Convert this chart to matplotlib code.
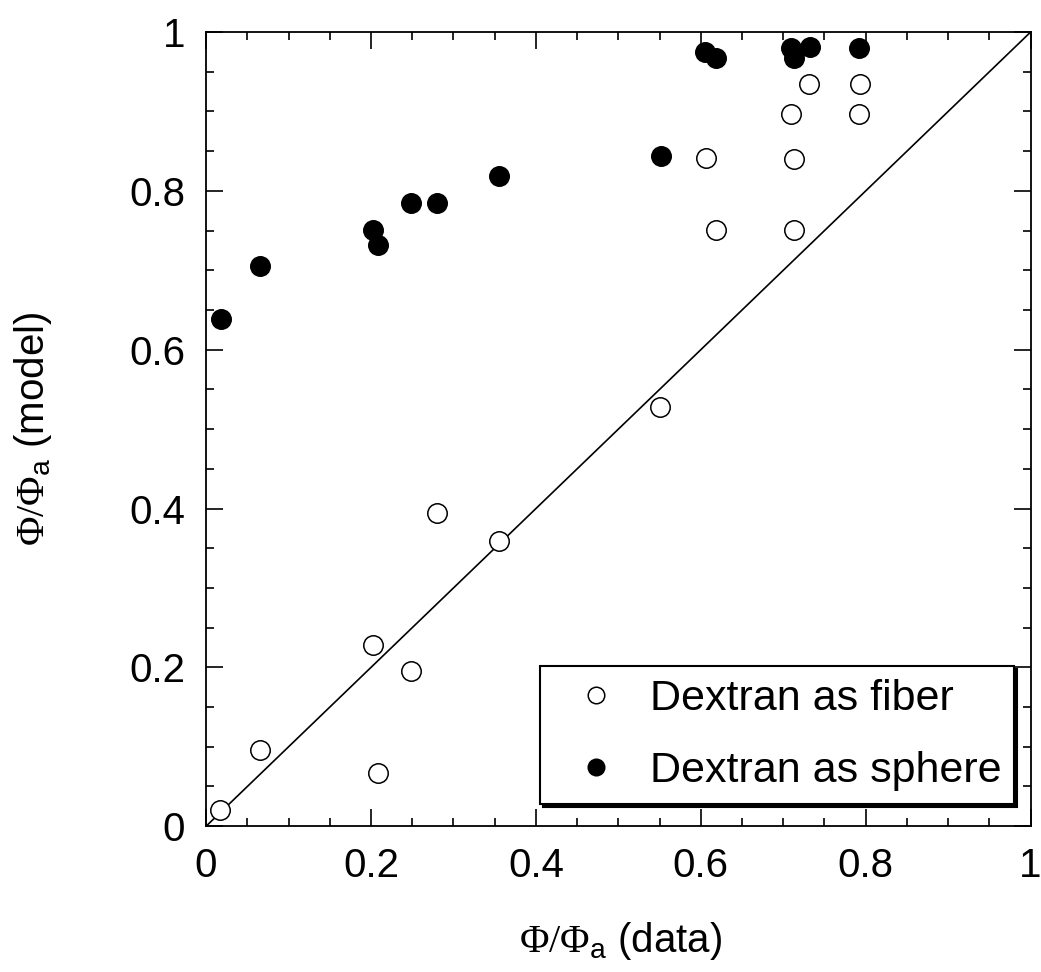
import matplotlib
matplotlib.use("Agg")
import matplotlib.pyplot as plt
from matplotlib.ticker import MultipleLocator, FuncFormatter

# valores
fiber_x = [0.017, 0.065, 0.202, 0.208, 0.248, 0.280, 0.355, 0.551,
           0.606, 0.618, 0.710, 0.713, 0.713, 0.731, 0.792, 0.793]
fiber_y = [0.021, 0.096, 0.228, 0.067, 0.196, 0.395, 0.359, 0.528,
           0.841, 0.751, 0.897, 0.840, 0.751, 0.934, 0.897, 0.934]

sphere_x = [0.018, 0.065, 0.202, 0.208, 0.248, 0.280, 0.355, 0.552,
            0.605, 0.619, 0.710, 0.713, 0.732, 0.792]
sphere_y = [0.639, 0.705, 0.751, 0.732, 0.785, 0.785, 0.819, 0.844,
            0.975, 0.967, 0.980, 0.967, 0.981, 0.980]

line_x = [0, 1]
line_y = [0, 1]

plt.rcParams['font.family'] = ['Liberation Sans', 'DejaVu Sans']
plt.rcParams['mathtext.fontset'] = 'custom'
plt.rcParams['mathtext.rm'] = 'Liberation Serif'
plt.rcParams['mathtext.sf'] = 'Liberation Sans'

fig = plt.figure(figsize=(10.41, 9.72), dpi=100)
ax = fig.add_axes([0.198, 0.150, 0.792, 0.817])

ax.plot(line_x, line_y, color='black', lw=1.2, zorder=1)
ax.plot(fiber_x, fiber_y, 'o', ms=14, mfc='white', mec='black', mew=1.1,
        ls='none', label='Dextran as fiber', zorder=2)
ax.plot(sphere_x, sphere_y, 'o', ms=14, mfc='black', mec='black', mew=1.1,
        ls='none', label='Dextran as sphere', zorder=3)

ax.set_xlim(0, 1)
ax.set_ylim(0, 1)
for a in (ax.xaxis, ax.yaxis):
    a.set_major_locator(MultipleLocator(0.2))
    a.set_minor_locator(MultipleLocator(0.05))
    a.set_major_formatter(FuncFormatter(lambda v, p: '%g' % round(v, 2)))

ax.tick_params(which='both', direction='in', top=True, right=True, width=1.2)
ax.tick_params(which='major', length=12, labelsize=29, pad=15)
ax.tick_params(which='minor', length=6)
for s in ax.spines.values():
    s.set_linewidth(1.3)

ax.set_xlabel(r'$\mathrm{\Phi/\Phi}_{\mathsf{a}}$ (data)', fontsize=29)
ax.set_ylabel(r'$\mathrm{\Phi/\Phi}_{\mathsf{a}}$ (model)', fontsize=29)
ax.xaxis.set_label_coords(0.503, -0.118)
ax.yaxis.set_label_coords(-0.185, 0.5)

leg = ax.legend(loc='lower right', bbox_to_anchor=(0.98, 0.028), borderaxespad=0,
                fontsize=31, frameon=True, fancybox=False,
                shadow={'color': 'black', 'alpha': 1},
                edgecolor='black', framealpha=1, markerscale=0.85,
                handlelength=2.0, handletextpad=0.25, borderpad=0.3, labelspacing=0.75)
leg.get_frame().set_linewidth(1.5)

fig.savefig('out.png', dpi=100)
